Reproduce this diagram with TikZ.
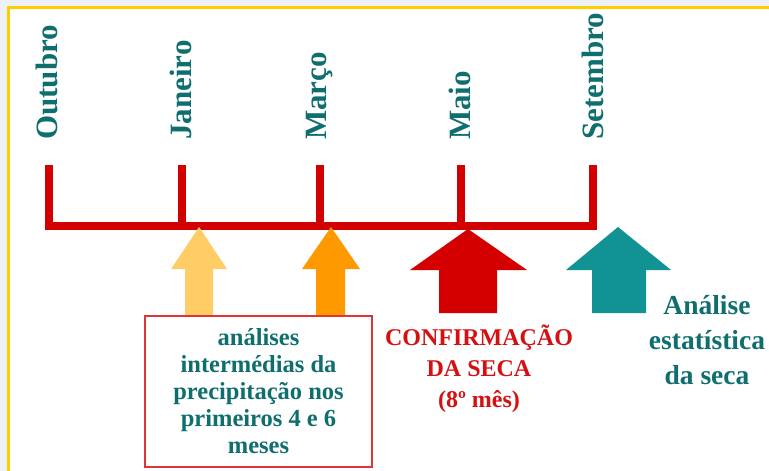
\documentclass[tikz,border=0pt]{standalone}
\usepackage{fontspec}
\setmainfont{Liberation Serif}
\definecolor{tlred}{HTML}{D20000}
\definecolor{lorange}{HTML}{FFCC66}
\definecolor{dorange}{HTML}{FF9900}
\definecolor{bred}{HTML}{D40000}
\definecolor{bteal}{HTML}{119393}
\definecolor{txteal}{HTML}{0F6E6E}
\definecolor{txred}{HTML}{D41010}
\definecolor{boxred}{HTML}{E03535}
\definecolor{yborder}{HTML}{FFCC00}
\definecolor{bgout}{HTML}{EEF2F6}
\begin{document}
\begin{tikzpicture}[x=1pt,y=-1pt,
  month/.style={rotate=90,anchor=west,inner sep=0pt,text=txteal,font=\fontsize{31}{31}\selectfont\bfseries},
  tick/.style={draw=tlred,line width=7.5pt},
  bar/.style={draw=tlred,line width=8pt},
  boxtext/.style={text=txteal,align=center,font=\fontsize{24.5}{27}\selectfont\bfseries},
  redtext/.style={text=txred,align=center,font=\fontsize{24}{31}\selectfont\bfseries},
  tealtext/.style={text=txteal,align=center,font=\fontsize{27.5}{35}\selectfont\bfseries}]
\useasboundingbox (0,0) rectangle (769,471);
\fill[bgout] (0,0) rectangle (769,471);
\fill[white] (8,7) rectangle (769,471);
\draw[yborder,line width=3pt] (8,471) -- (8,7) -- (769,7);

% month labels
\node[month] (oct) at (47,140) {Outubro};
\node[month] (jan) at (181,140) {Janeiro};
\node[month] (mar) at (320,140) {Março};
\node[month] (mai) at (460,140) {Maio};
\node[month] (set) at (593,140) {Setembro};

% timeline
\coordinate (t1) at (49,226);
\coordinate (t2) at (182,226);
\coordinate (t3) at (320,226);
\coordinate (t4) at (461,226);
\coordinate (t5) at (593,226);
\coordinate (u1) at (49,165);
\coordinate (u2) at (182,165);
\coordinate (u3) at (320,165);
\coordinate (u4) at (461,165);
\coordinate (u5) at (593,165);
\draw[bar] (45,226) -- (597,226);
\foreach \i in {1,...,5} \draw[tick] (u\i) -- ([yshift=-4pt]t\i);

% block arrows
\fill[lorange] (199,227) -- (227,269) -- (213,269) -- (213,316) -- (185,316) -- (185,269) -- (171,269) -- cycle;
\fill[dorange] (331,227) -- (360,269) -- (345,269) -- (345,316) -- (316,316) -- (316,269) -- (302,269) -- cycle;
\fill[bred] (468,229) -- (527,270) -- (497,270) -- (497,313) -- (439,313) -- (439,270) -- (410,270) -- cycle;
\fill[bteal] (618,227) -- (671,270) -- (646,270) -- (646,313) -- (592,313) -- (592,270) -- (566,270) -- cycle;

% box
\draw[boxred,line width=1.5pt] (145,316) rectangle (372,467);
\node[boxtext] (box) at (258.5,391) {análises\\intermédias da\\precipitação nos\\primeiros 4 e 6\\meses};

% red text
\node[redtext] (conf) at (479,369) {CONFIRMAÇÃO\\DA SECA\\(8º mês)};

% teal text
\node[tealtext] (anal) at (707,340) {Análise\\estatística\\da seca};
\end{tikzpicture}
\end{document}
